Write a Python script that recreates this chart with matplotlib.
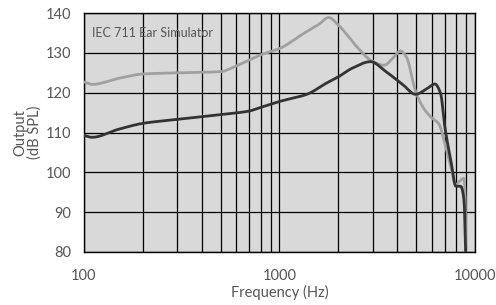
import numpy as np
import matplotlib
matplotlib.use("Agg")
import matplotlib.pyplot as plt

# -------------------------
# Data (frequency in Hz, output in dB SPL)
# -------------------------
freq_a = [100, 111, 150, 200, 300, 500, 600, 700, 800, 1000, 1330, 1600, 1780,
          2000, 2490, 2920, 3420, 3850, 4140, 4450, 4950, 5450, 6060, 6500,
          7000, 7510, 7970, 8250, 8770, 8900, 8960]
out_a = [122.7, 122.1, 123.6, 124.7, 125.0, 125.3, 126.7, 128.2, 129.5, 131.1,
         134.9, 137.3, 138.9, 137.0, 131.5, 128.2, 126.9, 129.0, 130.5, 129.0,
         120.5, 116.1, 113.5, 112.3, 107.3, 101.4, 96.8, 97.6, 98.5, 93.0, 80.0]

freq_b = [100, 110, 150, 200, 300, 500, 700, 800, 900, 1000, 1380, 1750, 2000,
          2340, 2920, 3500, 4300, 4950, 5700, 6220, 6660, 7000, 7510, 7970,
          8430, 8770, 8940]
out_b = [109.3, 108.8, 110.8, 112.3, 113.3, 114.5, 115.4, 116.3, 117.1, 117.8,
         119.6, 122.5, 124.0, 126.1, 127.8, 125.3, 121.9, 119.6, 121.1, 122.2,
         119.8, 111.4, 103.0, 96.5, 96.5, 93.0, 80.0]

x_ticks = [100, 1000, 10000]
y_ticks = [80, 90, 100, 110, 120, 130, 140]
note = "IEC 711 Ear Simulator"


def smooth(fx, fy, n=600):
    # monotone cubic interpolation in log-frequency, so the curve is smooth on the log axis
    lx = np.log10(fx)
    fy = np.array(fy, dtype=float)
    grid = np.linspace(lx[0], lx[-1], n)
    h = np.diff(lx)
    d = np.diff(fy) / h
    m = np.zeros(len(fy))
    for i in range(1, len(fy) - 1):
        if d[i - 1] * d[i] > 0:
            w1 = 2 * h[i] + h[i - 1]
            w2 = h[i] + 2 * h[i - 1]
            m[i] = (w1 + w2) / (w1 / d[i - 1] + w2 / d[i])
    m[0], m[-1] = d[0], d[-1]
    idx = np.clip(np.searchsorted(lx, grid) - 1, 0, len(h) - 1)
    t = (grid - lx[idx]) / h[idx]
    h00 = 2 * t**3 - 3 * t**2 + 1
    h10 = t**3 - 2 * t**2 + t
    h01 = -2 * t**3 + 3 * t**2
    h11 = t**3 - t**2
    yy = (h00 * fy[idx] + h10 * h[idx] * m[idx]
          + h01 * fy[idx + 1] + h11 * h[idx] * m[idx + 1])
    return 10 ** grid, yy


plt.rcParams["font.family"] = ["Lato", "DejaVu Sans"]
text_col = "#555555"

fig = plt.figure(figsize=(4.96, 3.05), dpi=100)
ax = fig.add_axes([0.169, 0.174, 0.789, 0.783])
ax.set_facecolor("#d9d9d9")

xa, ya = smooth(freq_a, out_a)
xb, yb = smooth(freq_b, out_b)
ax.plot(xa, ya, color="#a0a0a0", lw=2.0, zorder=3)
ax.plot(xb, yb, color="#333333", lw=2.0, zorder=4)

ax.set_xscale("log")
ax.set_xlim(100, 10000)
ax.set_ylim(80, 140)
ax.set_xticks(x_ticks)
ax.set_xticklabels([str(v) for v in x_ticks])
ax.set_yticks(y_ticks)
ax.grid(True, which="both", axis="x", color="black", lw=0.9)
ax.grid(True, which="major", axis="y", color="black", lw=0.9)
ax.tick_params(which="both", length=0, labelsize=10.5, colors=text_col)
ax.tick_params(axis="x", pad=12)
ax.tick_params(axis="y", pad=9)
for s in ax.spines.values():
    s.set_color("black")
    s.set_linewidth(1.0)

ax.set_xlabel("Frequency (Hz)", fontsize=10.5, color=text_col, labelpad=2)
ax.set_ylabel("Output\n(dB SPL)", fontsize=10.5, color=text_col,
              labelpad=3, linespacing=1.0)
ax.text(0.022, 0.915, note, transform=ax.transAxes, fontsize=9,
        color=text_col, va="center", ha="left")

plt.savefig("out.png", dpi=100)
